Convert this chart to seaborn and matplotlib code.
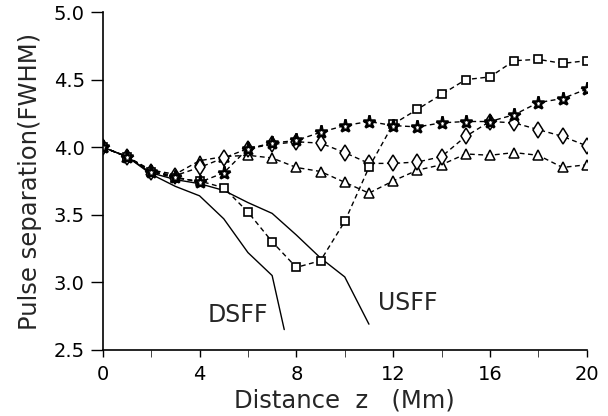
import numpy as np
import seaborn as sns
import matplotlib.pyplot as plt

z = list(range(0, 21))

square = [4.00, 3.93, 3.82, 3.77, 3.75, 3.70, 3.52, 3.30, 3.11, 3.16, 3.45,
          3.85, 4.17, 4.28, 4.39, 4.50, 4.52, 4.64, 4.65, 4.62, 4.64]
star = [4.00, 3.93, 3.82, 3.78, 3.74, 3.81, 3.99, 4.03, 4.05, 4.11, 4.16,
        4.19, 4.16, 4.15, 4.18, 4.19, 4.19, 4.24, 4.33, 4.36, 4.43]
diamond = [4.00, 3.93, 3.82, 3.79, 3.85, 3.92, 3.99, 4.02, 4.04, 4.03, 3.96,
           3.88, 3.88, 3.89, 3.93, 4.08, 4.19, 4.18, 4.13, 4.08, 4.01]
triangle = [4.00, 3.93, 3.83, 3.80, 3.90, 3.93, 3.94, 3.92, 3.85, 3.82, 3.74,
            3.66, 3.75, 3.83, 3.87, 3.95, 3.94, 3.96, 3.94, 3.85, 3.87]

dsff_z = [0, 1, 2, 3, 4, 5, 6, 7, 7.5]
dsff = [4.00, 3.93, 3.80, 3.71, 3.64, 3.47, 3.22, 3.05, 2.65]
usff_z = [0, 1, 2, 3, 4, 5, 6, 7, 8, 9, 10, 11]
usff = [4.00, 3.93, 3.81, 3.76, 3.73, 3.68, 3.59, 3.51, 3.35, 3.18, 3.04, 2.69]

sns.set_style('ticks')
plt.rcParams['font.family'] = ['DejaVu Sans']

fig = plt.figure(figsize=(6.08, 4.16), dpi=100)
ax = fig.add_axes([0.169, 0.159, 0.796, 0.812])

sns.lineplot(x=dsff_z, y=dsff, color='k', lw=1.0, ax=ax)
sns.lineplot(x=usff_z, y=usff, color='k', lw=1.0, ax=ax)

mk = dict(color='k', lw=1.0, linestyle=(0, (3.5, 2.5)), markerfacecolor='white',
          markeredgecolor='k', ax=ax)
sns.lineplot(x=z, y=triangle, marker='^', markersize=6.5, markeredgewidth=1.1, **mk)
sns.lineplot(x=z, y=diamond, marker='d', markersize=8, markeredgewidth=1.1, **mk)
sns.lineplot(x=z, y=square, marker='s', markersize=5.5, markeredgewidth=1.2, **mk)
sns.lineplot(x=z, y=star, marker='*', markersize=9.5, markeredgewidth=1.8, **mk)

ax.text(5.6, 2.76, 'DSFF', fontsize=17, ha='center', va='center')
ax.text(12.6, 2.85, 'USFF', fontsize=17, ha='center', va='center')

ax.set_xlim(0, 20)
ax.set_ylim(2.5, 5.0)
ax.set_xticks(np.arange(0, 21, 4))
ax.set_xticks(np.arange(0, 21, 2), minor=True)
ax.set_yticks(np.arange(2.5, 5.01, 0.5))
ax.set_yticklabels(['2.5', '3.0', '3.5', '4.0', '4.5', '5.0'])
ax.tick_params(axis='both', labelsize=14, colors='k', width=1.0)
ax.tick_params(axis='y', length=9, direction='out', pad=4)
ax.tick_params(axis='x', which='both', length=5, direction='out', pad=6)
ax.set_xlabel('Distance  z   (Mm)', fontsize=17.5, labelpad=3)
ax.set_ylabel('Pulse separation(FWHM)', fontsize=17.5, labelpad=8)
for s in ['top', 'right']:
    ax.spines[s].set_visible(False)
for s in ['left', 'bottom']:
    ax.spines[s].set_linewidth(1.2)
    ax.spines[s].set_color('k')
ax.margins(0)

fig.savefig('out.png', dpi=100)
